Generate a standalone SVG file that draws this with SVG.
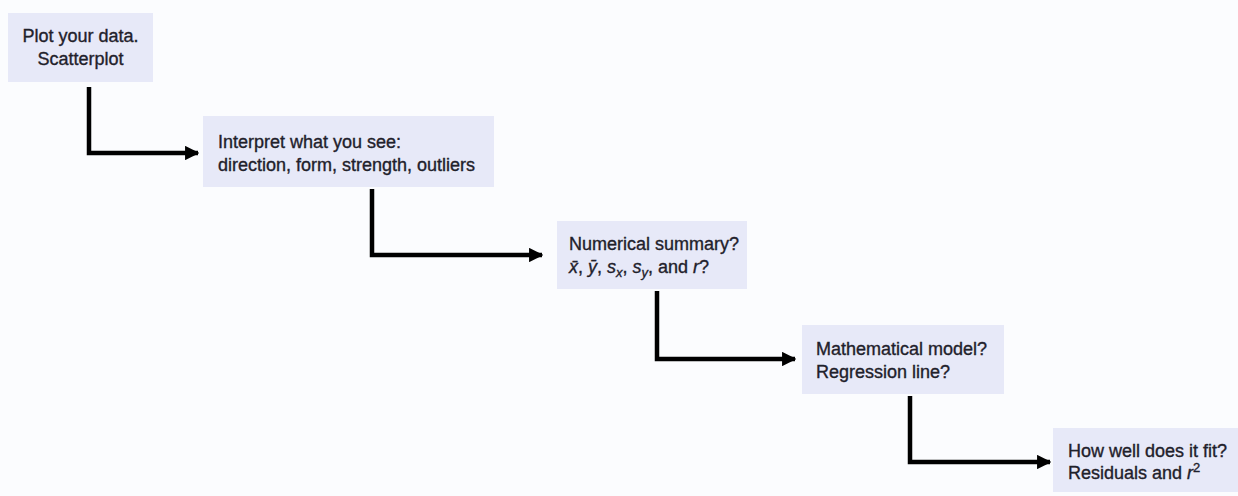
<svg xmlns="http://www.w3.org/2000/svg" width="1238" height="496" viewBox="0 0 1238 496">
  <style>
    .box { fill: #e7e9f8; }
    .t { font-family: "Liberation Sans", Arial, sans-serif; font-size: 18px; fill: #1f212b; stroke: #1f212b; stroke-width: 0.35; }
    .i { font-style: italic; }
    .conn { fill: none; stroke: #000; stroke-width: 4.5; stroke-linejoin: miter; }
  </style>
  <defs>
    <marker id="arrow" viewBox="0 0 10 10" refX="9" refY="5" markerWidth="3.2" markerHeight="3.2" orient="auto" markerUnits="strokeWidth">
      <path d="M0,0 L10,5 L0,10 z" fill="#000"/>
    </marker>
  </defs>
  <rect x="0" y="0" width="1238" height="496" fill="#fbfcfe"/>

  <g id="connectors">
    <path class="conn" d="M89,87 V153 H198" marker-end="url(#arrow)"/>
    <path class="conn" d="M372,189 V255 H542" marker-end="url(#arrow)"/>
    <path class="conn" d="M657,291 V359 H795" marker-end="url(#arrow)"/>
    <path class="conn" d="M910,396 V462 H1050" marker-end="url(#arrow)"/>
  </g>

  <g id="node1">
    <rect class="box" x="8" y="13" width="145" height="69"/>
    <text class="t" x="80.5" y="42" text-anchor="middle">Plot your data.</text>
    <text class="t" x="80.5" y="65" text-anchor="middle">Scatterplot</text>
  </g>

  <g id="node2">
    <rect class="box" x="203" y="116" width="291" height="71"/>
    <text class="t" x="218" y="148">Interpret what you see:</text>
    <text class="t" x="218" y="171">direction, form, strength, outliers</text>
  </g>

  <g id="node3">
    <rect class="box" x="557" y="221" width="190" height="68"/>
    <text class="t" x="569" y="250">Numerical summary?</text>
    <text class="t" x="569" y="273"><tspan class="i">x&#x0304;</tspan>, <tspan class="i">y&#x0304;</tspan>, <tspan class="i">s</tspan><tspan class="i" font-size="13" dy="4">x</tspan><tspan dy="-4">, </tspan><tspan class="i">s</tspan><tspan class="i" font-size="13" dy="4">y</tspan><tspan dy="-4">, and </tspan><tspan class="i">r</tspan>?</text>
  </g>

  <g id="node4">
    <rect class="box" x="802" y="325" width="202" height="69"/>
    <text class="t" x="816" y="355">Mathematical model?</text>
    <text class="t" x="816" y="378">Regression line?</text>
  </g>

  <g id="node5">
    <rect class="box" x="1053" y="428" width="185" height="64"/>
    <text class="t" x="1068" y="457">How well does it fit?</text>
    <text class="t" x="1068" y="479">Residuals and <tspan class="i">r</tspan><tspan font-size="13" dy="-7">2</tspan></text>
  </g>
</svg>
